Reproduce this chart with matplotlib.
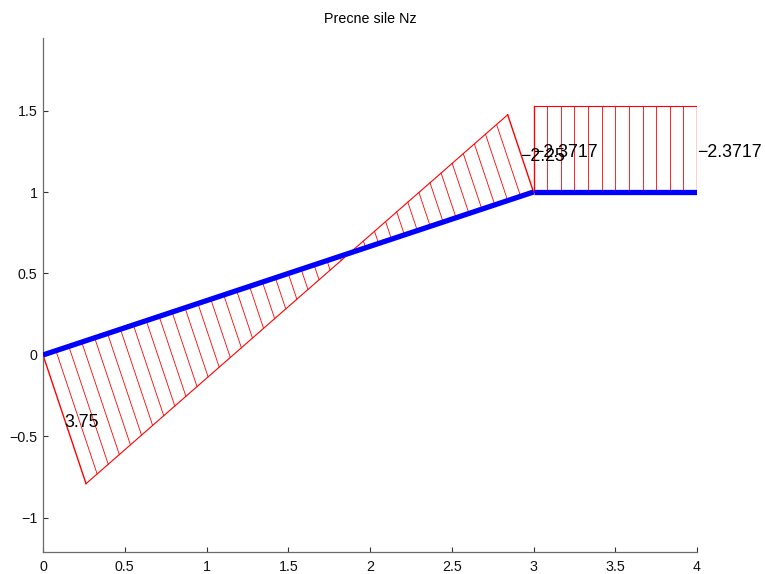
import numpy as np
import matplotlib
matplotlib.use("Agg")
import matplotlib.pyplot as plt

plt.rcParams['font.family'] = ['Liberation Sans', 'DejaVu Sans']

# Structure nodes and members
node_x = [0.0, 3.0, 4.0]
node_y = [0.0, 1.0, 1.0]
members = [(0, 1), (1, 2)]
# Shear force values at member start / end
v_start = [3.75, -2.3717]
v_end = [-2.25, -2.3717]
n_div = [38, 12]
scale = 0.222

title = "Precne sile Nz"
xticks = [0, 0.5, 1, 1.5, 2, 2.5, 3, 3.5, 4]
yticks = [-1, -0.5, 0, 0.5, 1, 1.5]

fig = plt.figure(figsize=(7.65, 5.74), dpi=100)
ax = fig.add_axes([43/765, 22/574, 654/765, 514/574])

red = (1, 0, 0)
for k, (i, j) in enumerate(members):
    A = np.array([node_x[i], node_y[i]])
    B = np.array([node_x[j], node_y[j]])
    d = B - A
    L = np.hypot(*d)
    nrm = np.array([d[1], -d[0]]) / L
    t = np.linspace(0, 1, n_div[k] + 1)
    P = A[None, :] + t[:, None] * d[None, :]
    v = v_start[k] + (v_end[k] - v_start[k]) * t
    Q = P + scale * v[:, None] * nrm[None, :]
    for m in range(len(t)):
        lw = 1.0 if m in (0, len(t) - 1) else 0.6
        ax.plot([P[m, 0], Q[m, 0]], [P[m, 1], Q[m, 1]], color=red, lw=lw, zorder=2)
    ax.plot(Q[:, 0], Q[:, 1], color=red, lw=0.8, zorder=2)
    for val, pt in ((v_start[k], A), (v_end[k], B)):
        pos = pt + 0.5 * scale * val * nrm
        ax.annotate(('%g' % val).replace('-', '\u2212'), xy=(pos[0], pos[1]),
                    xytext=(0, -3), textcoords='offset pixels',
                    ha='left', va='center', fontsize=12.8, color='black', zorder=4)

for (i, j) in members:
    ax.plot([node_x[i], node_x[j]], [node_y[i], node_y[j]], color=(0, 0, 1), lw=3.8,
            solid_capstyle='butt', zorder=3)

ax.set_xlim(0, 4)
ax.set_ylim(-1.209, 1.945)
ax.set_xticks(xticks)
ax.set_yticks(yticks)
ax.set_xticklabels(['%g' % x for x in xticks])
ax.set_yticklabels([('%g' % y).replace('-', '\u2212') for y in yticks])
for s in ('top', 'right'):
    ax.spines[s].set_visible(False)
for s in ('left', 'bottom'):
    ax.spines[s].set_color('#6a6a6a')
    ax.spines[s].set_linewidth(0.9)
ax.tick_params(direction='in', length=3.8, width=0.8, color='#333333', labelsize=10.3,
               labelcolor='#111111')
ax.tick_params(axis='x', pad=6)
ax.tick_params(axis='y', pad=4)
ax.set_title(title, fontsize=10.3, pad=11)

fig.savefig("out.png", dpi=100)
